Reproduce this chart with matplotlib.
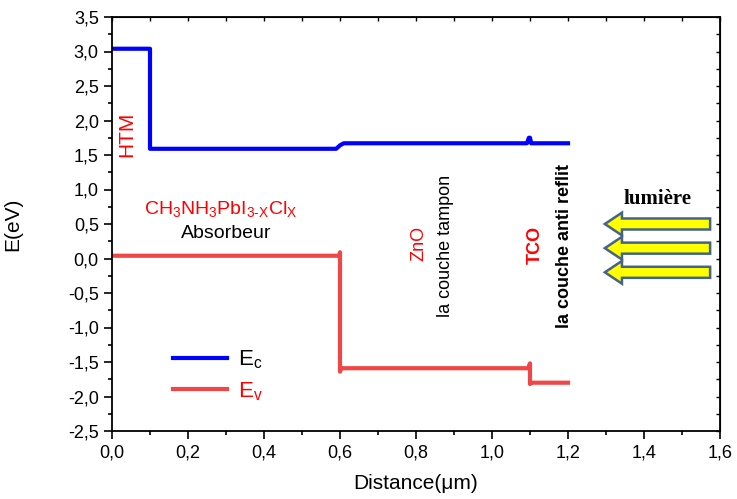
import matplotlib
matplotlib.use("Agg")
import matplotlib.pyplot as plt
from matplotlib.patches import FancyArrow
from matplotlib.ticker import MultipleLocator, FuncFormatter

plt.rcParams["font.family"] = ["Liberation Sans", "DejaVu Sans"]
plt.rcParams["mathtext.fontset"] = "custom"
plt.rcParams["mathtext.rm"] = "Liberation Sans"
plt.rcParams["mathtext.it"] = "Liberation Sans:italic"

# band edges along the device (µm, eV)
x_ec = [0.0, 0.1, 0.1, 0.59, 0.6, 0.61, 1.092, 1.097, 1.1, 1.103, 1.2]
ec = [3.04, 3.04, 1.59, 1.59, 1.64, 1.67, 1.67, 1.75, 1.75, 1.67, 1.67]
x_ev = [0.0, 0.598, 0.6, 0.6, 0.603, 1.095, 1.1, 1.1, 1.103, 1.2]
ev = [0.04, 0.04, 0.09, -1.64, -1.59, -1.59, -1.52, -1.82, -1.80, -1.80]

red = "#f04646"

fig = plt.figure(figsize=(7.37, 4.99), dpi=100)
ax = fig.add_axes([112 / 737, 68 / 499, 608 / 737, 414 / 499])

ax.plot(x_ec, ec, color="#0000ff", lw=3, label=r"$\mathregular{E_c}$", solid_joinstyle="round")
ax.plot(x_ev, ev, color=red, lw=3, label=r"$\mathregular{E_v}$", solid_joinstyle="round")

ax.set_xlim(0, 1.6)
ax.set_ylim(-2.5, 3.5)
ax.xaxis.set_major_locator(MultipleLocator(0.2))
ax.xaxis.set_minor_locator(MultipleLocator(0.1))
ax.yaxis.set_major_locator(MultipleLocator(0.5))
ax.yaxis.set_minor_locator(MultipleLocator(0.25))
comma = FuncFormatter(lambda v, p: f"{v:.1f}".replace(".", ","))
ax.xaxis.set_major_formatter(comma)
ax.yaxis.set_major_formatter(comma)
ax.tick_params(which="major", direction="out", length=6, width=1.2, labelsize=13)
ax.tick_params(which="minor", direction="out", length=3, width=1.2)
for s in ax.spines.values():
    s.set_linewidth(1.3)

# small inward ticks on top and right
top = ax.secondary_xaxis("top")
top.xaxis.set_major_locator(MultipleLocator(0.1))
top.tick_params(direction="in", length=3, width=1.0, labeltop=False)
right = ax.secondary_yaxis("right")
right.yaxis.set_major_locator(MultipleLocator(0.25))
right.tick_params(direction="in", length=3, width=1.0, labelright=False)

ax.set_xlabel("Distance(\u03bcm)", fontsize=15)
ax.set_ylabel("E(eV)", fontsize=15)
ax.xaxis.set_label_coords(0.5, -0.105)
ax.yaxis.set_label_coords(-0.147, 0.5)

# layer labels
ax.text(0.04, 1.8, "HTM", color="red", fontsize=15, rotation=90, ha="center", va="center")
ax.text(0.285, 0.72, r"$\mathregular{CH_3NH_3PbI_{3\text{-}X}Cl_X}$", color="red",
        fontsize=14, ha="center", va="center")
ax.text(0.3, 0.36, "Absorbeur", color="black", fontsize=14, ha="center", va="center")
ax.text(0.807, 0.22, "ZnO", color="red", fontsize=13, rotation=90, ha="center", va="center")
ax.text(0.877, 0.18, "la couche tampon", color="black", fontsize=13, rotation=90,
        ha="center", va="center")
ax.text(1.113, 0.2, "TCO", color="red", fontsize=13, weight="bold", rotation=90,
        ha="center", va="center")
ax.text(1.19, 0.18, "la couche anti reflit", color="black", fontsize=13, weight="bold",
        rotation=90, ha="center", va="center")

# incoming light
ax.text(1.435, 0.86, "lumière", family="Liberation Serif", weight="bold", fontsize=15,
        ha="center", va="center")
for yy in [0.5, 0.15, -0.2]:
    ax.add_patch(FancyArrow(1.574, yy, -0.277, 0, width=0.16, head_width=0.33,
                            head_length=0.045, length_includes_head=True,
                            fc="#ffff00", ec="#44628a", lw=1.8))

leg = ax.legend(loc="lower left", bbox_to_anchor=(0.068, 0.02), frameon=False,
                fontsize=16, handlelength=2.4, labelspacing=0.4, handletextpad=0.5)
leg.get_texts()[1].set_color("red")

fig.savefig("out.png", dpi=100)
